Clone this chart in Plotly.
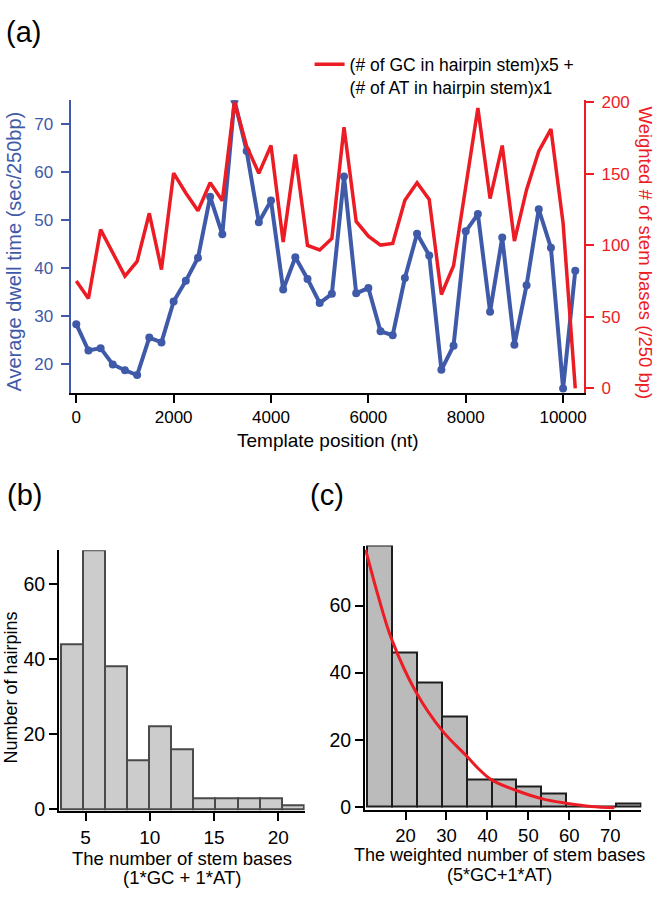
import plotly.graph_objects as go

# ---------------- data ----------------
template_pos = [0, 250, 500, 750, 1000, 1250, 1500, 1750, 2000, 2250, 2500, 2750,
                3000, 3250, 3500, 3750, 4000, 4250, 4500, 4750, 5000, 5250, 5500,
                5750, 6000, 6250, 6500, 6750, 7000, 7250, 7500, 7750, 8000, 8250,
                8500, 8750, 9000, 9250, 9500, 9750, 10000, 10250]
dwell_time = [28.4, 22.9, 23.4, 20.0, 18.8, 17.8, 25.6, 24.6, 33.1, 37.4, 42.2, 54.9,
              47.1, 75.0, 64.4, 49.6, 54.1, 35.6, 42.3, 37.8, 32.8, 34.7, 59.1,
              34.8, 35.9, 26.9, 26.1, 38.0, 47.2, 42.7, 18.9, 23.9, 47.7, 51.3,
              31.0, 46.4, 24.1, 36.5, 52.3, 44.3, 15.0, 39.5]
weighted_stem = [75.0, 62.8, 110.9, 94.9, 78.4, 88.7, 122.3, 83.0, 150.4, 136.5, 124.1, 143.6,
                 131.0, 200.0, 169.1, 150.2, 169.6, 102.2, 163.4, 99.9, 96.7, 104.7, 182.4,
                 116.6, 106.3, 100.1, 101.2, 131.4, 143.6, 131.9, 65.6, 85.7, 141.0, 195.9,
                 132.6, 169.6, 102.9, 138.8, 165.7, 181.1, 115.4, 0.0]
legend_label = "(# of GC in hairpin stem)x5 +<br>(# of AT in hairpin stem)x1"

b_edges = [3.07, 4.79, 6.51, 8.23, 9.95, 11.67, 13.39, 15.11, 16.83, 18.55, 20.27, 21.99]
b_counts = [44, 69, 38, 13, 22, 16, 3, 3, 3, 3, 1]

c_edges = [10.6, 16.68, 22.76, 28.84, 34.92, 41.0, 47.08, 53.16, 59.24, 65.32, 71.4, 77.48]
c_counts = [78, 46, 37, 27, 8, 8, 6, 4, 0, 0, 1]

fit_x = [10.26, 13.35, 16.59, 22.68, 28.94, 35.1, 37.7, 40.9, 47.4, 53.9, 59.6, 65.3, 71.0]
fit_y = [76.6, 62.7, 50.0, 33.9, 22.7, 14.9, 11.5, 8.1, 4.7, 2.2, 1.0, 0.1, -0.3]

top_xticks = [0, 2000, 4000, 6000, 8000, 10000]
top_xlabels = ["0", "2000", "4000", "6000", "8000", "10000"]
top_yticks = [20, 30, 40, 50, 60, 70]
top_y2ticks = [0, 50, 100, 150, 200]
b_xticks = [5, 10, 15, 20]
c_xticks = [20, 30, 40, 50, 60, 70]
hist_yticks = [0, 20, 40, 60]

# ---------------- style ----------------
W, H = 658, 898
FONT = "Liberation Sans, Arial, sans-serif"
BLUE = "#3F5AA8"
RED = "#EC1C24"


def dx(a, b):
    return [a / W, b / W]


def dy(top, bottom):
    return [1 - bottom / H, 1 - top / H]


def centers(edges):
    return [(edges[i] + edges[i + 1]) / 2 for i in range(len(edges) - 1)]


def widths(edges):
    return [edges[i + 1] - edges[i] for i in range(len(edges) - 1)]


fig = go.Figure()

fig.add_trace(go.Scatter(
    x=template_pos, y=dwell_time, xaxis="x", yaxis="y", mode="lines+markers",
    line=dict(color=BLUE, width=4), marker=dict(color=BLUE, size=8),
    showlegend=False))
fig.add_trace(go.Scatter(
    x=template_pos, y=weighted_stem, xaxis="x", yaxis="y2", mode="lines",
    line=dict(color=RED, width=3.5), name=legend_label, showlegend=True))

fig.add_trace(go.Bar(
    x=centers(b_edges), y=b_counts, width=widths(b_edges), xaxis="x2", yaxis="y3",
    marker=dict(color="#CCCCCC", line=dict(color="#4A4A4A", width=2)),
    showlegend=False))

fig.add_trace(go.Bar(
    x=centers(c_edges), y=c_counts, width=widths(c_edges), xaxis="x3", yaxis="y4",
    marker=dict(color="#BBBBBB", line=dict(color="#1E1E1E", width=2)),
    showlegend=False))
fig.add_trace(go.Scatter(
    x=fit_x, y=fit_y, xaxis="x3", yaxis="y4", mode="lines",
    line=dict(color=RED, width=3, shape="spline"), showlegend=False))

common = dict(showgrid=False, zeroline=False, showline=True, ticks="outside",
              ticklen=8, tickwidth=2, linewidth=2)

fig.update_layout(
    width=W, height=H, margin=dict(l=0, r=0, t=0, b=0),
    paper_bgcolor="white", plot_bgcolor="white",
    font=dict(family=FONT, color="black"),
    xaxis=dict(domain=dx(71, 586.7), range=[-115, 10430], anchor="y",
               tickvals=top_xticks, ticktext=top_xlabels,
               linecolor="black", tickcolor="black",
               tickfont=dict(size=17, color="black"), **common),
    yaxis=dict(domain=dy(95, 393), range=[14.07, 74.97], anchor="x",
               tickvals=top_yticks, linecolor=BLUE, tickcolor=BLUE,
               tickfont=dict(size=17, color=BLUE), ticklabelstandoff=4, **common),
    yaxis2=dict(overlaying="y", side="right", anchor="x", range=[-3.2, 201.2],
                tickvals=top_y2ticks, linecolor=RED, tickcolor=RED,
                tickfont=dict(size=17, color=RED), ticklabelstandoff=4, **common),
    xaxis2=dict(domain=dx(59.3, 306), range=[2.93, 22.05], anchor="y3",
                tickvals=b_xticks, linecolor="black", tickcolor="black",
                tickfont=dict(size=19, color="black"), **common),
    yaxis3=dict(domain=dy(553, 818.3), range=[-0.4, 69], anchor="x2",
                tickvals=hist_yticks, linecolor="black", tickcolor="black",
                tickfont=dict(size=19.5, color="black"), **common),
    xaxis3=dict(domain=dx(366.7, 644.3), range=[10.1, 77.6], anchor="y4",
                tickvals=c_xticks, linecolor="black", tickcolor="black",
                tickfont=dict(size=18.5, color="black"), **common),
    yaxis4=dict(domain=dy(548.3, 817.7), range=[-1, 77.9], anchor="x3",
                tickvals=hist_yticks, linecolor="black", tickcolor="black",
                tickfont=dict(size=19.5, color="black"), **common),
    legend=dict(x=311 / W, y=1 - 40 / H, xanchor="left", yanchor="top",
                valign="top", bgcolor="rgba(0,0,0,0)",
                font=dict(size=17.5, color="black", family=FONT)),
    bargap=0,
)


def ann(text, x, y, size, color="black", angle=0):
    fig.add_annotation(text=text, x=x / W, y=1 - y / H, xref="paper", yref="paper",
                       showarrow=False, textangle=angle, xanchor="center",
                       yanchor="middle", font=dict(size=size, color=color, family=FONT))


ann("(a)", 24, 25, 29)
ann("(b)", 25, 497, 29)
ann("(c)", 328, 497, 29)
ann("Average dwell time (sec/250bp)", 14, 249, 20, BLUE, -90)
ann("Weighted # of stem bases (/250 bp)", 648, 250, 18.5, RED, 90)
ann("Template position (nt)", 329, 441, 19)
ann("Number of hairpins", 11, 693, 18, "black", -90)
ann("The number of stem bases", 183, 867, 18.5)
ann("(1*GC + 1*AT)", 183, 886, 18.5)
ann("The weighted number of stem bases", 502, 863, 18)
ann("(5*GC+1*AT)", 502, 884, 18)

fig.write_html(
    "out.html",
    config={"displayModeBar": False},
    post_script="document.body.style.margin='0';document.body.style.overflow='hidden';",
)
